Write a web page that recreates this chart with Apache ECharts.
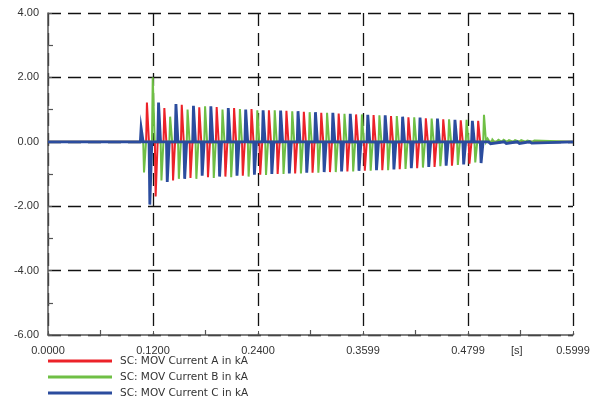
<!DOCTYPE html>
<html>
<head>
<meta charset="utf-8">
<script src="https://cdn.jsdelivr.net/npm/echarts@6/dist/echarts.min.js"></script>
<style>
  html, body { margin: 0; padding: 0; background: #fff; }
  #chart { width: 602px; height: 404px; }
</style>
</head>
<body>
<div id="chart"></div>
<script>
// Axis tick labels
const xTickLabels = ['0.0000', '0.1200', '0.2400', '0.3599', '0.4799', '0.5999'];
const yTickLabels = ['-6.00', '-4.00', '-2.00', '0.00', '2.00', '4.00'];

// Series names
const seriesNames = ['SC: MOV Current A in kA', 'SC: MOV Current B in kA', 'SC: MOV Current C in kA'];

// Start time of each conduction cycle [s]
const cycleTimes = [0.1071, 0.1270, 0.1469, 0.1669, 0.1868, 0.2067, 0.2266, 0.2465, 0.2665, 0.2864,
                    0.3063, 0.3262, 0.3461, 0.3661, 0.3860, 0.4059, 0.4258, 0.4457, 0.4657, 0.4856];

// Position of each phase peak inside a cycle [s]
const peakOffsets = { cPos: 0.0, bNeg: 0.00332, aPos: 0.00664, cNeg: 0.00996, bPos: 0.01328, aNeg: 0.0166 };

// Peak currents per cycle [kA]
const aPos = [1.22, 1.05, 1.15, 1.07, 1.08, 1.05, 1.02, 0.98, 0.96, 0.93, 0.90, 0.88, 0.85, 0.83, 0.80, 0.76, 0.73, 0.70, 0.67, 0.65];
const aNeg = [-1.70, -1.20, -1.12, -1.10, -1.08, -1.05, -1.02, -1.00, -0.98, -0.96, -0.94, -0.92, -0.90, -0.88, -0.85, -0.82, -0.78, -0.74, -0.68];
const bPos = [2.00, 0.78, 1.00, 1.10, 1.00, 1.02, 0.98, 0.98, 0.95, 0.92, 0.90, 0.87, 0.85, 0.82, 0.80, 0.76, 0.72, 0.70, 0.68, 0.84];
const bNeg = [-0.95, -1.20, -1.15, -1.15, -1.12, -1.10, -1.08, -1.03, -1.00, -0.98, -0.96, -0.94, -0.92, -0.90, -0.88, -0.84, -0.80, -0.76, -0.72, -0.64];
const cPos = [0.43, 1.22, 1.17, 1.12, 1.10, 1.05, 1.00, 0.98, 0.97, 0.95, 0.92, 0.90, 0.87, 0.84, 0.82, 0.78, 0.75, 0.72, 0.68, 0.65];
const cNeg = [-1.95, -1.25, -1.15, -1.05, -1.08, -1.05, -1.02, -1.00, -0.98, -0.96, -0.94, -0.92, -0.90, -0.88, -0.86, -0.82, -0.78, -0.74, -0.70, -0.66];

// Small residual pulses after the fault clears
const bTailTimes = [0.5030, 0.5085, 0.5140, 0.5200, 0.5260, 0.5330, 0.5400, 0.5470, 0.5550];
const bTailValues = [0.10, 0.07, 0.06, 0.06, 0.05, 0.05, 0.05, 0.04, 0.04];
const cTailTimes = [0.5050, 0.5230, 0.5380, 0.5520];
const cTailValues = [-0.06, -0.05, -0.05, -0.04];

const T_END = 0.5999;
const X_STEP = 0.11998;

// Build a pulse train (returning to zero between peaks) for one phase
function pulseTrain(groups, halfBase, halfTop) {
  const peaks = [];
  groups.forEach(g => {
    g.values.forEach((v, i) => {
      const t = g.times ? g.times[i] : cycleTimes[i] + g.offset;
      peaks.push([t, v]);
    });
  });
  peaks.sort((p, q) => p[0] - q[0]);
  const pts = [[0, 0]];
  peaks.forEach(([t, v]) => {
    pts.push([t - halfBase, 0], [t - halfTop, v], [t + halfTop, v], [t + halfBase, 0]);
  });
  pts.push([T_END, 0]);
  return pts;
}

const HB = 0.0016, HT = 0.0007;
const dataA = pulseTrain([{ offset: peakOffsets.aPos, values: aPos }, { offset: peakOffsets.aNeg, values: aNeg }], HB, HT);
const dataB = pulseTrain([{ offset: peakOffsets.bPos, values: bPos }, { offset: peakOffsets.bNeg, values: bNeg },
                          { times: bTailTimes, values: bTailValues }], HB, HT);
const dataC = pulseTrain([{ offset: peakOffsets.cPos, values: cPos }, { offset: peakOffsets.cNeg, values: cNeg },
                          { times: cTailTimes, values: cTailValues }], HB, HT);

const colors = ['#ec2229', '#6fbf45', '#2b4c9e'];
const FONT = 'Liberation Sans, Arial, sans-serif';

const chart = echarts.init(document.getElementById('chart'), null, { renderer: 'canvas' });

function lineSeries(name, data, color, width) {
  return {
    name, type: 'line', data, showSymbol: false, symbol: 'none',
    lineStyle: { color, width, join: 'miter' }, itemStyle: { color },
    animation: false, silent: true, clip: true
  };
}

chart.setOption({
  animation: false,
  backgroundColor: '#ffffff',
  grid: { left: 48, right: 29, top: 13, bottom: 69, containLabel: false },
  xAxis: {
    type: 'value', min: 0, max: T_END, interval: X_STEP,
    axisLine: { show: true, onZero: false, lineStyle: { color: '#555', width: 1.5 } },
    axisTick: { show: true, inside: true, length: 4, lineStyle: { color: '#555' } },
    minorTick: { show: true, splitNumber: 2, length: 5, lineStyle: { color: '#555', width: 1.2 } },
    axisLabel: {
      color: '#333', fontFamily: FONT, fontSize: 11, margin: 10,
      formatter: v => xTickLabels[Math.round(v / X_STEP)]
    },
    splitLine: { show: true, lineStyle: { color: '#111', width: 1.3, type: [13, 7] } }
  },
  yAxis: {
    type: 'value', min: -6, max: 4, interval: 2,
    axisLine: { show: true, onZero: false, lineStyle: { color: '#555', width: 1.5 } },
    axisTick: { show: true, inside: true, length: 4, lineStyle: { color: '#555' } },
    minorTick: { show: true, splitNumber: 2, length: 5, lineStyle: { color: '#555', width: 1.2 } },
    axisLabel: {
      color: '#333', fontFamily: FONT, fontSize: 11, margin: 9,
      formatter: v => yTickLabels[Math.round((v + 6) / 2)]
    },
    splitLine: { show: true, lineStyle: { color: '#111', width: 1.3, type: [13, 7] } }
  },
  legend: {
    orient: 'vertical', left: 48, top: 355, height: 48, padding: 0,
    icon: 'rect', itemWidth: 64, itemHeight: 3, itemGap: 4,
    textStyle: { color: '#333', fontFamily: 'DejaVu Sans, sans-serif', fontSize: 10.5, lineHeight: 12, padding: [0, 0, 0, 3] },
    data: seriesNames, selectedMode: false
  },
  graphic: [{
    type: 'text', left: 511, top: 345,
    style: { text: '[s]', fill: '#333', font: '11px ' + FONT }
  }],
  series: [
    lineSeries(seriesNames[0], dataA, colors[0], 2),
    lineSeries(seriesNames[1], dataB, colors[1], 2),
    lineSeries(seriesNames[2], dataC, colors[2], 2.8)
  ]
});
</script>
</body>
</html>
